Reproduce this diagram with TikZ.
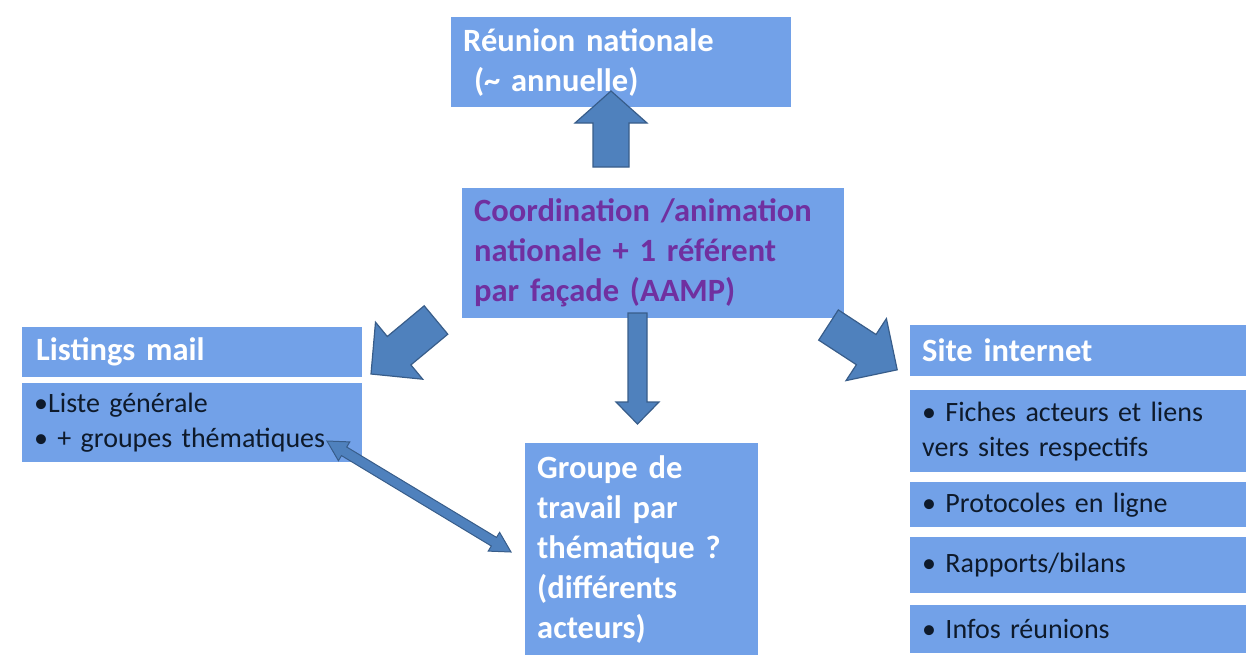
\documentclass[tikz,border=0pt]{standalone}
\usepackage{fontspec}
\setmainfont{Carlito}[WordSpace=0.9]
\definecolor{boxblue}{HTML}{72A1E8}
\definecolor{arrowblue}{HTML}{4F81BD}
\definecolor{arrowedge}{HTML}{385D8A}
\definecolor{purpletxt}{HTML}{7030A0}
\definecolor{darktxt}{HTML}{0E1A2B}
\tikzset{
  box/.style={fill=boxblue, anchor=north west, inner xsep=12pt, inner ysep=0pt, align=left},
  headtxt/.style={font=\bfseries\fontsize{32.5}{40}\selectfont, text=white},
  bodytxt/.style={font=\fontsize{28}{35}\selectfont, text=darktxt},
  blockarrow/.style={fill=arrowblue, draw=arrowedge, line width=1.2pt, line join=miter}
}
\begin{document}
\begin{tikzpicture}[x=1pt,y=-1pt]
\useasboundingbox (0,0) rectangle (1246,667);
% boxes
\node[box, headtxt, minimum width=340pt, minimum height=90pt, text width=316pt] (reunion) at (451,17) {Réunion nationale\\\ (\textasciitilde{} annuelle)};
\node[box, headtxt, text=purpletxt, minimum width=382pt, minimum height=130pt, text width=358pt] (coord) at (462,188) {Coordination /animation\\nationale + 1 référent\\par façade (AAMP)};
\node[box, headtxt, minimum width=340pt, minimum height=50pt, text width=312pt, inner xsep=14pt] (listh) at (22,327) {Listings mail};
\node[box, bodytxt, minimum width=340pt, minimum height=79pt, text width=316pt] (listb) at (22,383) {•Liste générale\\• + groupes thématiques};
\node[box, headtxt, minimum width=233pt, minimum height=212pt, text width=209pt] (groupe) at (525,443) {Groupe de\\travail par\\thématique ?\\(différents\\acteurs)};
\node[box, headtxt, minimum width=336pt, minimum height=51pt, text width=312pt] (siteh) at (910,325) {Site internet};
\node[box, bodytxt, minimum width=336pt, minimum height=82pt, text width=312pt] (site1) at (910,390) {• Fiches acteurs et liens\\vers sites respectifs};
\node[box, bodytxt, minimum width=336pt, minimum height=45pt, text width=312pt] (site2) at (910,482) {• Protocoles en ligne};
\node[box, bodytxt, minimum width=336pt, minimum height=56pt, text width=312pt] (site3) at (910,537) {• Rapports/bilans};
\node[box, bodytxt, minimum width=336pt, minimum height=48pt, text width=312pt] (site4) at (910,605) {• Infos réunions};
% block arrows
\draw[blockarrow] (593,167) -- (593,123) -- (575,123) -- (611,91) -- (647,123) -- (629,123) -- (629,167) -- cycle;
\draw[blockarrow] (628,313) -- (628,402) -- (616,402) -- (637.5,424) -- (659,402) -- (647,402) -- (647,313) -- cycle;
\draw[blockarrow] (447.8,334.2) -- (410.9,364.9) -- (422.7,379.2) -- (371,374) -- (375.5,322.2) -- (387.3,336.5) -- (424.2,305.8) -- cycle;
\draw[blockarrow] (818.7,340.1) -- (856.4,364.7) -- (846.0,380.6) -- (897.2,369.8) -- (886.4,318.6) -- (876.0,334.5) -- (838.3,309.9) -- cycle;
\draw[blockarrow, line width=1pt] (327,441) -- (349.8,441.9) -- (346.7,447.0) -- (496.5,537.4) -- (499.6,532.3) -- (511,552) -- (488.2,551.1) -- (491.3,546.0) -- (341.5,455.6) -- (338.4,460.7) -- cycle;
\end{tikzpicture}
\end{document}
